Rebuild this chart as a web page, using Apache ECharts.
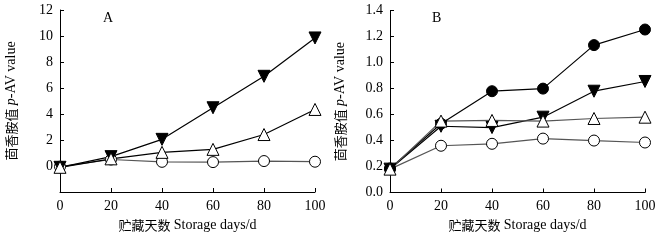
<!DOCTYPE html>
<html><head><meta charset="utf-8">
<script src="https://cdn.jsdelivr.net/npm/echarts@6/dist/echarts.min.js"></script>
<style>html,body{margin:0;padding:0;background:#fff}#c{width:671px;height:241px}</style>
</head><body><div id="c"></div>
<script>
const days = [0, 20, 40, 60, 80, 100];
// Panel A
const aDownTri = [-0.1, 0.72, 2.05, 4.48, 6.9, 9.85];
const aOpenTri = [-0.1, 0.55, 1.05, 1.28, 2.42, 4.35];
const aOpenCir = [-0.05, 0.5, 0.32, 0.3, 0.38, 0.33];
// Panel B
const bFillCir = [0.185, 0.53, 0.78, 0.8, 1.135, 1.255];
const bDownTri = [0.18, 0.51, 0.5, 0.58, 0.78, 0.855];
const bOpenTri = [0.18, 0.55, 0.555, 0.55, 0.57, 0.58];
const bOpenCir = [0.18, 0.36, 0.375, 0.415, 0.4, 0.385];
const xTicks = [0, 100, 20];
const aY = [-2, 12, 2];
const bY = [0, 1.4, 0.2];

const FONT = '"Liberation Serif","Times New Roman",serif';
const CJK = '"Noto Sans CJK SC",sans-serif';
const pair = d => days.map((x, i) => [x, d[i]]);

function xAxis(idx) {
  return {
    gridIndex: idx, type: 'value', min: xTicks[0], max: xTicks[1], interval: xTicks[2],
    axisLine: {onZero: false, lineStyle: {color: '#000', width: 1}},
    axisTick: {inside: true, length: 4, lineStyle: {color: '#000'}},
    splitLine: {show: false},
    axisLabel: {color: '#000', fontFamily: FONT, fontSize: 14, margin: 7},
    name: '{c|贮藏天数} {e|Storage days/d}', nameLocation: 'middle', nameGap: 22,
    nameTextStyle: {rich: {
      c: {fontFamily: CJK, fontSize: 13, color: '#000'},
      e: {fontFamily: FONT, fontSize: 14, color: '#000'}
    }}
  };
}
function yAxis(idx, r, fmt, gap) {
  return {
    gridIndex: idx, type: 'value', min: r[0], max: r[1], interval: r[2],
    axisLine: {show: true, onZero: false, lineStyle: {color: '#000', width: 1}},
    axisTick: {show: true, inside: true, length: 4, lineStyle: {color: '#000'}},
    splitLine: {show: false},
    axisLabel: {color: '#000', fontFamily: FONT, fontSize: 14, margin: 7, formatter: fmt},
    name: '{c|茴香胺值} {i|p}{e|-AV value}', nameLocation: 'middle', nameGap: gap, nameRotate: 90,
    nameTextStyle: {rich: {
      c: {fontFamily: CJK, fontSize: 13, color: '#000'},
      i: {fontFamily: FONT, fontSize: 14, fontStyle: 'italic', color: '#000'},
      e: {fontFamily: FONT, fontSize: 14, color: '#000'}
    }}
  };
}
function s(idx, data, symbol, filled, lineColor, rot) {
  return {
    type: 'line', xAxisIndex: idx, yAxisIndex: idx, data: pair(data),
    symbol: symbol, symbolSize: symbol === 'circle' ? 11 : 12, symbolRotate: rot || 0,
    showAllSymbol: true,
    lineStyle: {color: lineColor, width: 1.2},
    itemStyle: {color: filled ? '#000' : '#fff', borderColor: '#000', borderWidth: 1},
    emphasis: {disabled: true}, animation: false, z: 2
  };
}

const chart = echarts.init(document.getElementById('c'), null, {renderer: 'canvas'});
chart.setOption({
  backgroundColor: '#fff',
  animation: false,
  grid: [
    {left: 60, right: 356, top: 10, bottom: 49},
    {left: 390, right: 26, top: 10.7, bottom: 48.5}
  ],
  xAxis: [xAxis(0), xAxis(1)],
  yAxis: [
    yAxis(0, aY, v => v < 0 ? '' : String(v), 42),
    yAxis(1, bY, v => v.toFixed(1), 43)
  ],
  graphic: [
    {type: 'text', left: 103, top: 11, style: {text: 'A', fontFamily: FONT, fontSize: 14, fill: '#000'}},
    {type: 'text', left: 432, top: 11, style: {text: 'B', fontFamily: FONT, fontSize: 14, fill: '#000'}}
  ],
  series: [
    s(0, aOpenCir, 'circle', false, '#555'),
    s(0, aDownTri, 'triangle', true, '#000', 180),
    s(0, aOpenTri, 'triangle', false, '#000'),
    s(1, bOpenCir, 'circle', false, '#555'),
    s(1, bFillCir, 'circle', true, '#000'),
    s(1, bDownTri, 'triangle', true, '#000', 180),
    s(1, bOpenTri, 'triangle', false, '#555')
  ]
});
</script></body></html>
